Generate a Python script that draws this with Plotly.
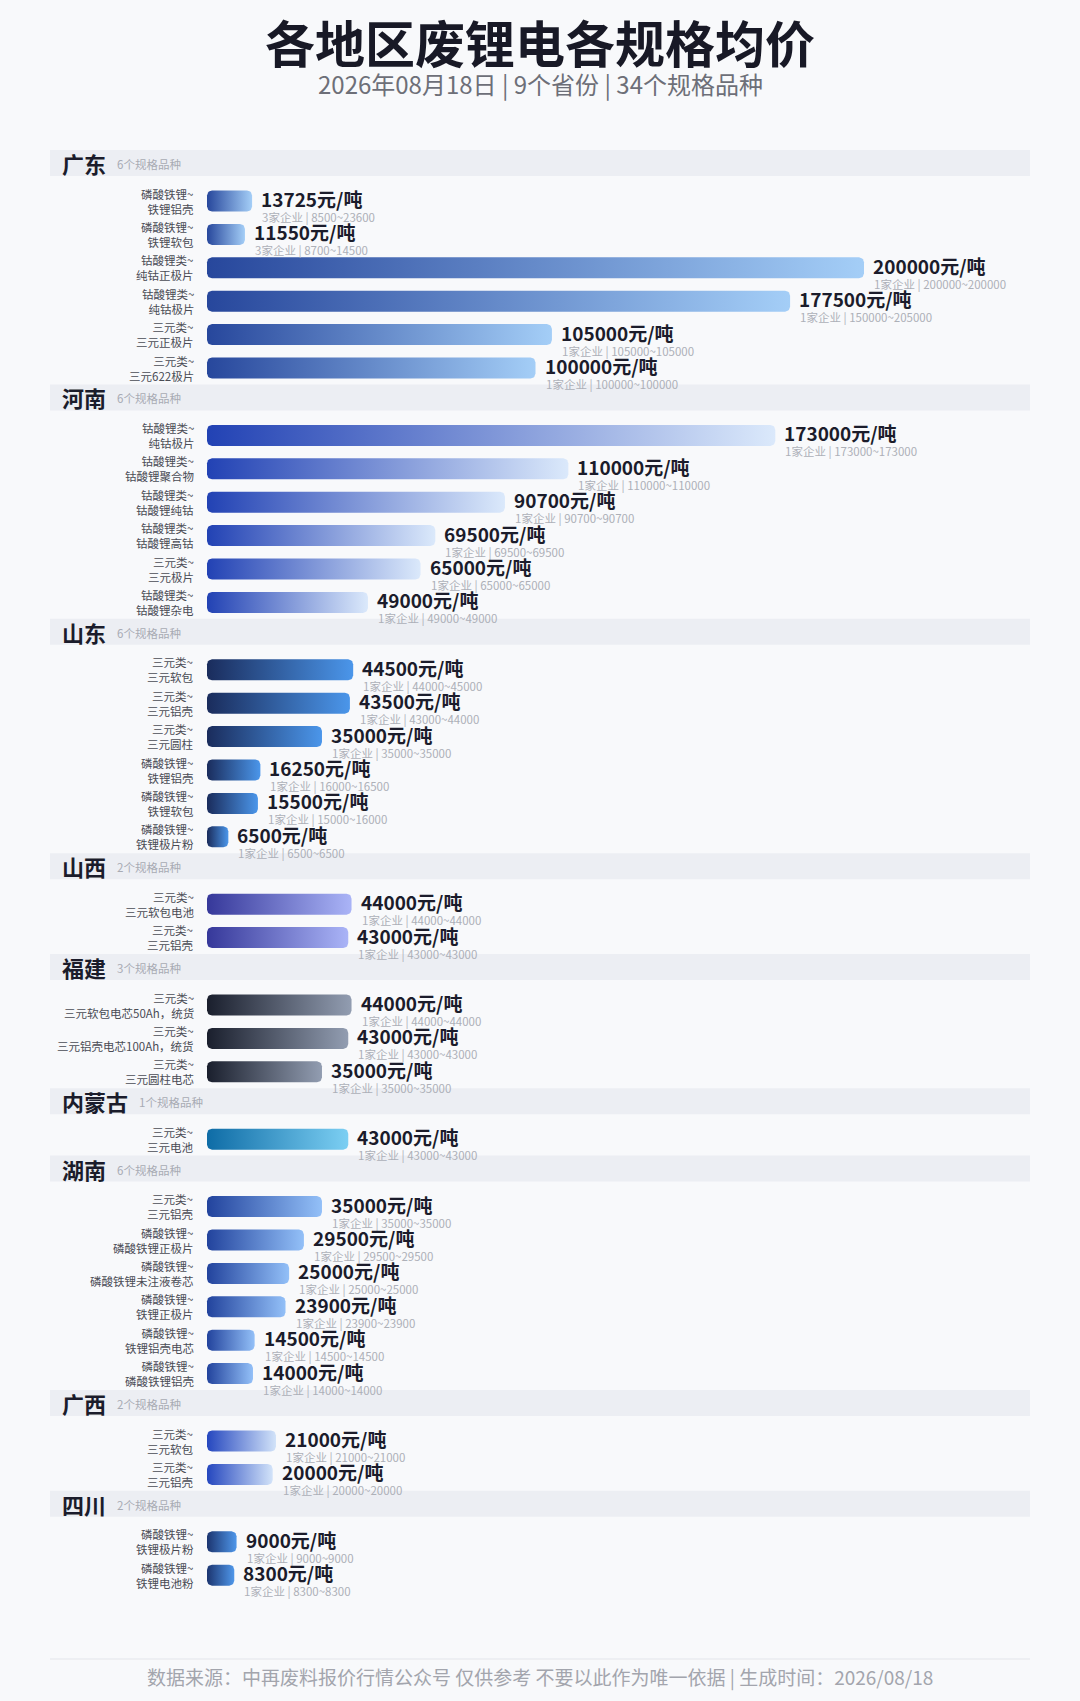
import numpy as np
import plotly.graph_objects as go

# ---- data ----
regions = ['广东', '河南', '山东', '山西', '福建', '内蒙古', '湖南', '广西', '四川']
region_counts = [6, 6, 6, 2, 3, 1, 6, 2, 2]

categories = [
    '磷酸铁锂', '磷酸铁锂', '钴酸锂类', '钴酸锂类', '三元类', '三元类',
    '钴酸锂类', '钴酸锂类', '钴酸锂类', '钴酸锂类', '三元类', '钴酸锂类',
    '三元类', '三元类', '三元类', '磷酸铁锂', '磷酸铁锂', '磷酸铁锂',
    '三元类', '三元类',
    '三元类', '三元类', '三元类',
    '三元类',
    '三元类', '磷酸铁锂', '磷酸铁锂', '磷酸铁锂', '磷酸铁锂', '磷酸铁锂',
    '三元类', '三元类',
    '磷酸铁锂', '磷酸铁锂',
]
specs = [
    '铁锂铝壳', '铁锂软包', '纯钴正极片', '纯钴极片', '三元正极片', '三元622极片',
    '纯钴极片', '钴酸锂聚合物', '钴酸锂纯钴', '钴酸锂高钴', '三元极片', '钴酸锂杂电',
    '三元软包', '三元铝壳', '三元圆柱', '铁锂铝壳', '铁锂软包', '铁锂极片粉',
    '三元软包电池', '三元铝壳',
    '三元软包电芯50Ah，统货', '三元铝壳电芯100Ah，统货', '三元圆柱电芯',
    '三元电池',
    '三元铝壳', '磷酸铁锂正极片', '磷酸铁锂未注液卷芯', '铁锂正极片', '铁锂铝壳电芯', '磷酸铁锂铝壳',
    '三元软包', '三元铝壳',
    '铁锂极片粉', '铁锂电池粉',
]
prices = [
    13725, 11550, 200000, 177500, 105000, 100000,
    173000, 110000, 90700, 69500, 65000, 49000,
    44500, 43500, 35000, 16250, 15500, 6500,
    44000, 43000,
    44000, 43000, 35000,
    43000,
    35000, 29500, 25000, 23900, 14500, 14000,
    21000, 20000,
    9000, 8300,
]
firms = [3, 3] + [1] * 32
price_low = [
    8500, 8700, 200000, 150000, 105000, 100000,
    173000, 110000, 90700, 69500, 65000, 49000,
    44000, 43000, 35000, 16000, 15000, 6500,
    44000, 43000,
    44000, 43000, 35000,
    43000,
    35000, 29500, 25000, 23900, 14500, 14000,
    21000, 20000,
    9000, 8300,
]
price_high = [
    23600, 14500, 200000, 205000, 105000, 100000,
    173000, 110000, 90700, 69500, 65000, 49000,
    45000, 44000, 35000, 16500, 16000, 6500,
    44000, 43000,
    44000, 43000, 35000,
    43000,
    35000, 29500, 25000, 23900, 14500, 14000,
    21000, 20000,
    9000, 8300,
]

# gradient per region (left, right)
region_colors = [
    ('#27479c', '#a4cef7'),
    ('#2242b4', '#dbe9fb'),
    ('#1a2c5c', '#4b96ea'),
    ('#36389a', '#aab4f7'),
    ('#1a1f2d', '#929db1'),
    ('#0e6ca6', '#7ccff3'),
    ('#22439d', '#93c0f8'),
    ('#2547bf', '#d2e3f9'),
    ('#1c3570', '#4f97ea'),
]

# ---- layout constants (pixels) ----
W, H = 1080, 1701
X0_PX = 207              # pixel of value 0
PX_PER_UNIT = (864 - 207) / 200000
FIRST_HEADER = 163
HEAD_TO_ROW = 38
ROW_STEP = 33.4
ROW_TO_HEAD = 29.4
BAR_H = 21
RADIUS = 5

x_range = [-X0_PX / PX_PER_UNIT, (W - X0_PX) / PX_PER_UNIT]


def rounded_bar(v, yc):
    rx = min(RADIUS / PX_PER_UNIT, v / 2)
    ry = RADIUS
    y0, y1 = yc - BAR_H / 2, yc + BAR_H / 2
    xs, ys = [], []
    corners = [(v - rx, y0 + ry, -90, 0), (v - rx, y1 - ry, 0, 90),
               (rx, y1 - ry, 90, 180), (rx, y0 + ry, 180, 270)]
    for cx, cy, a0, a1 in corners:
        t = np.radians(np.linspace(a0, a1, 8))
        xs.extend(cx + rx * np.cos(t))
        ys.extend(cy + ry * np.sin(t))
    xs.append(xs[0])
    ys.append(ys[0])
    return xs, ys


fig = go.Figure()
shapes = []
annotations = []
FONT = 'Noto Sans CJK SC'

y = FIRST_HEADER
idx = 0
for r, name in enumerate(regions):
    yh = y
    shapes.append(dict(type='rect', xref='paper', yref='y', x0=50 / W, x1=1030 / W,
                       y0=yh - 13, y1=yh + 13, fillcolor='#eceef3', line_width=0, layer='below'))
    annotations.append(dict(xref='paper', yref='y', x=60 / W, y=yh, text='<b>%s</b>' % name,
                            xanchor='left', yanchor='middle', showarrow=False,
                            font=dict(family=FONT, size=22, color='#1b1c2b')))
    annotations.append(dict(xref='paper', yref='y', x=(60 + 22 * len(name) + 11) / W, y=yh + 1,
                            text='%d个规格品种' % region_counts[r],
                            xanchor='left', yanchor='middle', showarrow=False,
                            font=dict(family=FONT, size=11.5, color='#a8abb3')))
    yc = yh + HEAD_TO_ROW
    c0, c1 = region_colors[r]
    for j in range(region_counts[r]):
        v = prices[idx]
        xs, ys = rounded_bar(v, yc)
        fig.add_trace(go.Scatter(
            x=xs, y=ys, mode='lines', fill='toself', line=dict(width=0, color=c0),
            fillgradient=dict(type='horizontal', colorscale=[[0, c0], [1, c1]]),
            hoverinfo='skip', showlegend=False))
        annotations.append(dict(xref='paper', yref='y', x=196 / W, y=yc,
                                text='%s~<br>%s' % (categories[idx], specs[idx]),
                                xanchor='right', yanchor='middle', align='right', showarrow=False,
                                font=dict(family=FONT, size=11.5, color='#4a4c55')))
        annotations.append(dict(xref='x', yref='y', x=v, y=yc - 2.5, xshift=7,
                                text='<b>%d元/吨</b>' % v,
                                xanchor='left', yanchor='middle', showarrow=False,
                                font=dict(family=FONT, size=19, color='#1b1c2b')))
        annotations.append(dict(xref='x', yref='y', x=v, y=yc + 16, xshift=8,
                                text='%d家企业 | %d~%d' % (firms[idx], price_low[idx], price_high[idx]),
                                xanchor='left', yanchor='middle', showarrow=False,
                                font=dict(family=FONT, size=11.5, color='#adb0b8')))
        idx += 1
        if j < region_counts[r] - 1:
            yc += ROW_STEP
    y = yc + ROW_TO_HEAD

# title / subtitle / footer
annotations.append(dict(xref='paper', yref='y', x=0.5, y=41, text='<b>各地区废锂电各规格均价</b>',
                        xanchor='center', yanchor='middle', showarrow=False,
                        font=dict(family=FONT, size=50, color='#181926')))
annotations.append(dict(xref='paper', yref='y', x=0.5, y=83,
                        text='2026年08月18日 | 9个省份 | 34个规格品种',
                        xanchor='center', yanchor='middle', showarrow=False,
                        font=dict(family=FONT, size=24, color='#6d6f78')))
shapes.append(dict(type='line', xref='paper', yref='y', x0=50 / W, x1=1030 / W,
                   y0=1659, y1=1659, line=dict(color='#e3e5ea', width=1)))
annotations.append(dict(xref='paper', yref='y', x=0.5, y=1677,
                        text='数据来源：中再废料报价行情公众号 仅供参考 不要以此作为唯一依据 | 生成时间：2026/08/18',
                        xanchor='center', yanchor='middle', showarrow=False,
                        font=dict(family=FONT, size=19, color='#a3a5ad')))

fig.update_layout(
    width=W, height=H,
    margin=dict(l=0, r=0, t=0, b=0),
    paper_bgcolor='#f8f9fb', plot_bgcolor='#f8f9fb',
    xaxis=dict(range=x_range, visible=False, fixedrange=True),
    yaxis=dict(range=[H, 0], visible=False, fixedrange=True),
    shapes=shapes, annotations=annotations,
    font=dict(family=FONT),
)

fig.write_html("out.html", config={'displayModeBar': False},
               post_script="document.body.style.margin='0';")
